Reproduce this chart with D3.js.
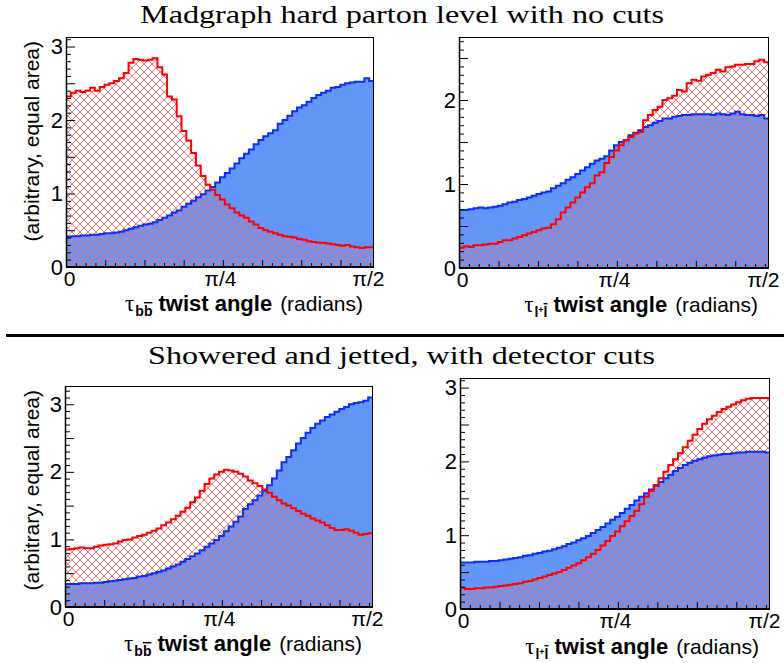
<!DOCTYPE html>
<html><head><meta charset="utf-8">
<script src="https://cdn.jsdelivr.net/npm/d3@7"></script>
<style>body{margin:0;background:#fff}svg{display:block}</style>
</head><body>
<svg id="c" width="784" height="663"></svg>
<script>
// ---------- data ----------
const nBins = 64;
const xMax = Math.PI / 2;
const xTickValues = [0, Math.PI / 4, Math.PI / 2];
const xTickLabels = ["0", "π/4", "π/2"];
const titleTop = "Madgraph hard parton level with no cuts";
const titleBottom = "Showered and jetted, with detector cuts";
const yTitleText = "(arbitrary, equal area)";

const partonBB_red = [2.32,2.37,2.40,2.38,2.40,2.44,2.40,2.45,2.48,2.50,2.53,2.57,2.64,2.78,2.83,2.82,2.81,2.82,2.84,2.72,2.62,2.32,2.28,2.05,1.85,1.72,1.55,1.38,1.24,1.12,1.05,0.98,0.92,0.85,0.80,0.74,0.70,0.67,0.62,0.58,0.53,0.50,0.48,0.46,0.44,0.42,0.41,0.40,0.38,0.37,0.35,0.34,0.33,0.33,0.32,0.31,0.30,0.29,0.30,0.28,0.27,0.26,0.27,0.27];
const partonBB_blue = [0.41,0.42,0.42,0.43,0.43,0.44,0.44,0.45,0.46,0.46,0.47,0.48,0.50,0.52,0.54,0.56,0.58,0.59,0.61,0.64,0.67,0.70,0.74,0.77,0.82,0.86,0.90,0.95,0.99,1.04,1.09,1.15,1.22,1.28,1.34,1.41,1.48,1.54,1.60,1.67,1.73,1.78,1.82,1.86,1.95,2.00,2.06,2.12,2.17,2.20,2.25,2.30,2.34,2.37,2.40,2.44,2.45,2.48,2.50,2.51,2.52,2.52,2.57,2.53];
const partonLL_red = [0.24,0.26,0.25,0.27,0.27,0.28,0.29,0.29,0.31,0.33,0.33,0.35,0.37,0.39,0.41,0.43,0.45,0.47,0.48,0.52,0.58,0.66,0.72,0.78,0.84,0.90,0.96,1.01,1.10,1.14,1.25,1.32,1.40,1.46,1.52,1.56,1.60,1.62,1.76,1.82,1.88,1.92,2.00,2.02,2.05,2.12,2.10,2.20,2.24,2.23,2.28,2.30,2.32,2.36,2.34,2.39,2.40,2.42,2.42,2.43,2.43,2.46,2.48,2.45];
const partonLL_blue = [0.69,0.69,0.70,0.71,0.72,0.71,0.72,0.73,0.74,0.76,0.78,0.79,0.81,0.82,0.84,0.86,0.88,0.90,0.91,0.95,0.98,1.01,1.05,1.08,1.12,1.16,1.20,1.24,1.28,1.30,1.33,1.40,1.46,1.50,1.52,1.58,1.61,1.64,1.68,1.70,1.73,1.75,1.78,1.78,1.80,1.81,1.82,1.82,1.83,1.83,1.83,1.83,1.82,1.84,1.83,1.82,1.84,1.86,1.83,1.82,1.82,1.81,1.82,1.78];
const showerBB_red = [0.85,0.86,0.87,0.88,0.87,0.87,0.89,0.91,0.92,0.93,0.94,0.97,0.99,1.00,1.03,1.05,1.07,1.10,1.13,1.16,1.21,1.25,1.30,1.35,1.41,1.47,1.55,1.62,1.72,1.82,1.90,1.96,2.00,2.03,2.02,2.00,1.97,1.93,1.87,1.83,1.79,1.74,1.69,1.63,1.58,1.53,1.50,1.46,1.42,1.38,1.35,1.31,1.28,1.25,1.21,1.17,1.14,1.14,1.15,1.13,1.10,1.07,1.08,1.09];
const showerBB_blue = [0.34,0.34,0.34,0.35,0.35,0.35,0.36,0.36,0.37,0.38,0.39,0.40,0.41,0.42,0.43,0.45,0.46,0.48,0.50,0.52,0.54,0.57,0.60,0.63,0.67,0.71,0.75,0.79,0.84,0.89,0.94,0.99,1.05,1.12,1.19,1.26,1.34,1.45,1.52,1.58,1.65,1.72,1.80,1.90,2.02,2.14,2.22,2.32,2.42,2.50,2.58,2.65,2.71,2.76,2.81,2.85,2.89,2.93,2.96,3.00,3.02,3.03,3.05,3.10];
const showerLL_red = [0.29,0.27,0.27,0.28,0.28,0.29,0.29,0.30,0.31,0.32,0.33,0.34,0.35,0.37,0.38,0.40,0.42,0.44,0.46,0.48,0.50,0.53,0.56,0.59,0.62,0.66,0.70,0.75,0.80,0.86,0.92,0.99,1.05,1.12,1.19,1.26,1.33,1.42,1.52,1.60,1.68,1.77,1.86,1.95,2.03,2.11,2.19,2.28,2.36,2.44,2.51,2.57,2.62,2.67,2.71,2.74,2.77,2.80,2.83,2.85,2.86,2.86,2.86,2.86];
const showerLL_blue = [0.63,0.63,0.63,0.64,0.64,0.64,0.65,0.65,0.66,0.67,0.68,0.69,0.70,0.72,0.73,0.75,0.76,0.78,0.79,0.81,0.83,0.85,0.88,0.90,0.93,0.96,0.99,1.03,1.07,1.11,1.16,1.21,1.25,1.30,1.36,1.41,1.47,1.52,1.57,1.62,1.67,1.72,1.77,1.82,1.87,1.91,1.95,1.98,2.01,2.03,2.05,2.07,2.08,2.09,2.10,2.10,2.11,2.12,2.12,2.13,2.13,2.13,2.13,2.12];

// ---------- layout ----------
const panels = [
  {x0:66,  x1:374, yT:37,  yB:267, ymax:3.13, red:partonBB_red, blue:partonBB_blue, yLabels:[0,1,2,3], yTitle:true,  sub:"bb", xTitleY:311},
  {x0:459, x1:769, yT:37,  yB:268, ymax:2.75, red:partonLL_red, blue:partonLL_blue, yLabels:[0,1,2],   yTitle:false, sub:"ll", xTitleY:312},
  {x0:65,  x1:373, yT:386, yB:607, ymax:3.27, red:showerBB_red, blue:showerBB_blue, yLabels:[0,1,2,3], yTitle:true,  sub:"bb", xTitleY:651},
  {x0:460, x1:770, yT:378, yB:609, ymax:3.13, red:showerLL_red, blue:showerLL_blue, yLabels:[0,1,2,3], yTitle:false, sub:"ll", xTitleY:654}
];
const SANS = "'Liberation Sans', Arial, Helvetica, sans-serif";
const SERIF = "'Liberation Serif', 'Times New Roman', serif";
const BLUE_FILL = "#6496f8";
const BLUE_LINE = "#0a2cff";
const RED = "#ff0000";

const svg = d3.select("#c");
const defs = svg.append("defs");
const pat = defs.append("pattern").attr("id","hatch").attr("patternUnits","userSpaceOnUse")
  .attr("width",8).attr("height",8);
pat.append("path").attr("d","M0,0L8,8M8,0L0,8M-1,7L1,9M7,-1L9,1M-1,1L1,-1M7,9L9,7")
  .attr("stroke","#ff6a6a").attr("stroke-width",0.9).attr("fill","none");

// titles
svg.append("text").attr("x",402).attr("y",23).attr("text-anchor","middle")
  .attr("font-family",SERIF).attr("font-size",26).attr("textLength",524)
  .attr("lengthAdjust","spacingAndGlyphs").text(titleTop);
svg.append("text").attr("x",401.5).attr("y",364).attr("text-anchor","middle")
  .attr("font-family",SERIF).attr("font-size",26).attr("textLength",507)
  .attr("lengthAdjust","spacingAndGlyphs").text(titleBottom);
svg.append("rect").attr("x",6).attr("y",334).attr("width",778).attr("height",3).attr("fill","#000");

panels.forEach((p, pi) => {
  const x = d3.scaleLinear().domain([0, xMax]).range([p.x0, p.x1]);
  const y = d3.scaleLinear().domain([0, p.ymax]).range([p.yB, p.yT]);
  const bw = xMax / nBins;
  const cid = "clip" + pi;
  defs.append("clipPath").attr("id",cid).append("rect")
    .attr("x",p.x0).attr("y",p.yT).attr("width",p.x1-p.x0).attr("height",p.yB-p.yT);
  const g = svg.append("g");
  const gc = g.append("g").attr("clip-path","url(#"+cid+")");
  const steps = vals => vals.flatMap((v,i) => [[i*bw, v], [(i+1)*bw, v]]);
  const area = d3.area().x(d=>x(d[0])).y0(y(0)).y1(d=>y(d[1]));
  const line = d3.line().x(d=>x(d[0])).y(d=>y(d[1]));
  gc.append("path").attr("d",area(steps(p.blue))).attr("fill",BLUE_FILL);
  gc.append("path").attr("d",area(steps(p.red))).attr("fill","url(#hatch)");
  gc.append("path").attr("d",line(steps(p.blue))).attr("fill","none").attr("stroke",BLUE_LINE).attr("stroke-width",2);
  gc.append("path").attr("d",line(steps(p.red))).attr("fill","none").attr("stroke",RED).attr("stroke-width",2);

  // y ticks
  const yMinor = d3.range(0, p.ymax + 1e-9, 0.1).filter(v => Math.abs(v*2 - Math.round(v*2)) > 1e-6);
  const yMajor = d3.range(0, p.ymax + 1e-9, 0.5);
  const ya1 = g.append("g").attr("transform",`translate(${p.x0},0)`)
    .call(d3.axisLeft(y).tickValues(yMinor).tickSize(-5).tickFormat(""));
  const ya2 = g.append("g").attr("transform",`translate(${p.x0},0)`)
    .call(d3.axisLeft(y).tickValues(yMajor).tickSize(-9).tickFormat(""));
  const ya3 = g.append("g").attr("transform",`translate(${p.x0},0)`)
    .call(d3.axisLeft(y).tickValues(p.yLabels).tickSize(0).tickPadding(3).tickFormat(d3.format("d")));
  [ya1,ya2,ya3].forEach(a => { a.select(".domain").remove(); a.selectAll("line").attr("stroke","#000"); });
  ya3.selectAll("text").attr("font-family",SANS).attr("font-size",22).attr("fill","#000");

  // x ticks
  const xMinor = d3.range(0, xMax, 0.05).filter(v => Math.abs(v*5 - Math.round(v*5)) > 1e-6);
  const xMajor = d3.range(0, xMax, 0.2);
  const xa1 = g.append("g").attr("transform",`translate(0,${p.yB})`)
    .call(d3.axisBottom(x).tickValues(xMinor).tickSize(-4).tickFormat(""));
  const xa2 = g.append("g").attr("transform",`translate(0,${p.yB})`)
    .call(d3.axisBottom(x).tickValues(xMajor).tickSize(-7).tickFormat(""));
  const xa3 = g.append("g").attr("transform",`translate(0,${p.yB})`)
    .call(d3.axisBottom(x).tickValues(xTickValues).tickSize(0).tickPadding(4).tickFormat((d,i)=>xTickLabels[i]));
  [xa1,xa2,xa3].forEach(a => { a.select(".domain").remove(); a.selectAll("line").attr("stroke","#000"); });
  const labelShift = [3, 0, -6];
  xa3.selectAll("text").attr("font-family",SANS).attr("font-size",21).attr("fill","#000")
    .attr("dx",(d,i)=>labelShift[i]);

  // frame
  g.append("rect").attr("x",p.x0+0.5).attr("y",p.yT+0.5).attr("width",p.x1-p.x0-1).attr("height",p.yB-p.yT-1)
    .attr("fill","none").attr("stroke","#000").attr("stroke-width",1);
  g.append("line").attr("x1",p.x0).attr("x2",p.x1).attr("y1",p.yB).attr("y2",p.yB).attr("stroke","#000").attr("stroke-width",2);
  g.append("line").attr("x1",p.x0+0.5).attr("x2",p.x0+0.5).attr("y1",p.yT).attr("y2",p.yB).attr("stroke","#000").attr("stroke-width",1.5);

  // y title
  if (p.yTitle) {
    g.append("text").attr("transform",`translate(39,${p.yT+4}) rotate(-90)`).attr("text-anchor","end")
      .attr("font-family",SANS).attr("font-size",21).text(yTitleText);
  }
  // x title
  const t = g.append("text").attr("x",p.x1-11).attr("y",p.xTitleY).attr("text-anchor","end")
    .attr("font-family",SANS).attr("font-size",21);
  t.append("tspan").attr("font-family",SERIF).attr("font-size",23).text("τ");
  if (p.sub === "bb") {
    t.append("tspan").attr("font-size",14).attr("font-weight","bold").attr("dy",5).attr("dx",1).text("b");
    t.append("tspan").attr("font-size",14).attr("font-weight","bold").style("text-decoration","overline").text("b");
  } else {
    t.append("tspan").attr("font-size",14).attr("font-weight","bold").attr("dy",5).attr("dx",1).text("l");
    t.append("tspan").attr("font-size",9).attr("font-weight","bold").attr("dy",-4).text("+");
    t.append("tspan").attr("font-size",14).attr("font-weight","bold").attr("dy",4).style("text-decoration","overline").text("l");
  }
  t.append("tspan").attr("dy",-5).attr("dx",6).attr("font-weight","bold").attr("font-size",22).text("twist angle");
  t.append("tspan").attr("dx",8).text("(radians)");
});
</script>
</body></html>
